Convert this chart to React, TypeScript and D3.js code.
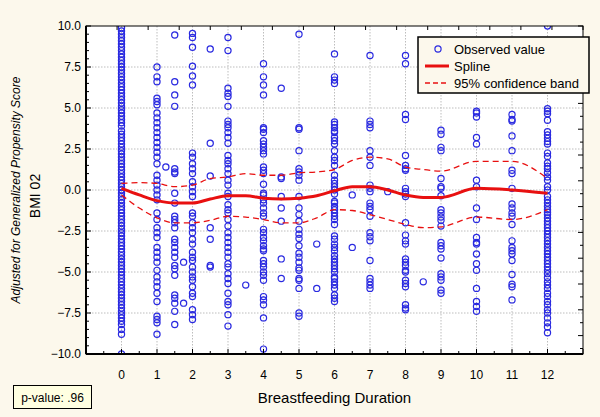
import { useRef, useEffect } from 'react'
import * as d3 from 'd3'

const col0 = [9.9, 9.7, 9.5, 9.3, 9.1, 8.9, 8.7, 8.5, 8.3, 8.1, 7.9, 7.7, 7.5, 7.3, 7.1, 6.9, 6.7, 6.5, 6.3, 6.1, 5.9, 5.7, 5.5, 5.3, 5.1, 4.9, 4.7, 4.5, 4.3, 4.1, 3.9, 3.6, 3.4, 3.2, 3.0, 2.8, 2.6, 2.4, 2.2, 2.0, 1.8, 1.6, 1.4, 1.2, 1.0, 0.8, 0.6, 0.4, 0.2, 0.0, -0.2, -0.4, -0.6, -0.8, -1.0, -1.2, -1.4, -1.6, -1.8, -2.0, -2.2, -2.4, -2.6, -2.8, -3.0, -3.2, -3.4, -3.6, -3.8, -4.0, -4.2, -4.4, -4.6, -4.8, -5.0, -5.2, -5.4, -5.6, -5.8, -6.0, -6.2, -6.4, -6.6, -6.8, -7.0, -7.2, -7.4, -7.6, -7.8, -8.0, -8.2, -8.5, -8.8, -10.0]
const col1 = [7.5, 6.9, 6.6, 5.6, 5.4, 5.2, 4.7, 4.4, 4.1, 3.8, 3.5, 3.2, 2.9, 2.6, 2.3, 2.0, 1.6, 0.9, 0.6, 0.3, 0.0, -0.3, -0.6, -1.4, -1.8, -2.3, -2.6, -2.9, -3.5, -3.8, -4.1, -4.4, -4.9, -5.3, -5.6, -5.9, -6.3, -6.8, -7.7, -7.9, -8.1, -8.8]
const col1q = [1.4]
const col1h = [9.45, 6.6, 5.8, 5.1, 1.3, 1.1, 1.0, -0.2, -0.8, -1.6, -1.8, -2.0, -2.3, -3.0, -3.2, -3.5, -3.8, -4.1, -4.6, -4.8, -5.2, -6.4, -6.6, -6.9, -7.4, -8.2]
const col1t = [-4.4, -6.9]
const col2 = [9.55, 9.3, 8.7, 7.55, 6.95, 6.4, 2.25, 2.0, 1.6, 1.3, 1.0, 0.5, 0.2, -0.1, -0.4, -1.4, -1.6, -2.0, -2.3, -2.6, -3.0, -3.3, -3.8, -4.1, -4.3, -4.7, -5.0, -5.3, -5.5, -5.9, -6.3, -6.5, -7.3, -7.6, -7.9]
const col2h = [8.6, 2.85, 0.85, -2.3, -3.0, -4.6, -4.7]
const col3 = [9.3, 8.5, 6.2, 5.9, 5.7, 5.1, 4.2, 4.0, 3.8, 3.5, 3.2, 2.85, 2.1, 1.8, 1.6, 1.3, 1.0, 0.6, 0.3, -0.2, -0.4, -0.9, -1.2, -1.4, -1.8, -2.2, -2.6, -2.9, -3.2, -3.5, -3.8, -4.1, -4.5, -4.7, -5.1, -5.4, -5.7, -6.3, -6.8, -7.0, -7.6, -8.3]
const col3h = [-5.8]
const col4 = [7.7, 6.9, 6.4, 5.8, 3.8, 3.7, 3.5, 3.0, 2.8, 2.6, 2.4, 2.2, 1.4, 1.2, 1.0, 0.35, -0.2, -0.3, -0.6, -0.8, -1.1, -1.4, -1.6, -2.4, -2.6, -2.9, -3.1, -3.4, -3.6, -3.7, -4.3, -4.5, -4.7, -5.0, -5.2, -5.5, -6.5, -6.7, -7.0, -7.8, -9.7]
const col4h = [6.2, 0.8, 0.7, -0.4, -1.1, -1.9, -4.2, -5.4]
const col5 = [9.5, 3.8, 3.7, 2.4, 1.3, 1.1, 0.9, 0.6, -0.4, -1.1, -1.5, -1.9, -2.4, -2.7, -2.95, -3.4, -3.85, -4.1, -4.4, -4.75, -4.9, -5.4, -5.5, -6.0, -7.5, -7.7]
const col5h = [-3.3, -6.0]
const col6 = [8.3, 6.9, 6.7, 6.5, 4.15, 4.0, 3.8, 3.6, 3.5, 3.2, 3.0, 2.8, 2.4, 2.0, 1.8, 1.5, 0.9, 0.6, 0.4, 0.2, 0.0, -0.25, -0.7, -0.8, -1.0, -1.2, -1.4, -1.6, -1.8, -2.1, -2.8, -3.0, -3.3, -3.5, -3.7, -4.0, -4.2, -4.4, -4.6, -4.8, -5.0, -5.3, -5.4, -5.6, -5.8, -6.0, -6.4, -6.6, -6.8]
const col6h = [-0.3, -3.5]
const col7 = [8.2, 4.2, 4.0, 3.8, 2.4, 2.0, 1.5, 0.3, 0.1, -0.1, -0.8, -1.0, -1.2, -1.6, -2.6, -2.85, -3.1, -4.3, -5.4, -5.6, -5.8, -6.0]
const col7h = [-0.1]
const col8 = [8.2, 7.7, 4.6, 4.3, 2.1, 1.5, 1.3, 1.2, 0.1, -0.1, -0.25, -0.4, -2.0, -2.75, -3.1, -3.3, -4.2, -4.4, -4.6, -4.9, -5.0, -5.5, -5.7, -5.9, -7.0, -7.2, -7.3]
const col8h = [-5.6]
const col9 = [3.65, 3.4, 2.6, 2.4, 0.7, 0.2, 0.1, -0.35, -1.2, -1.4, -1.65, -1.85, -2.2, -3.2, -3.4, -3.6, -4.15, -5.1, -5.3, -5.5, -6.1, -6.3]
const col10 = [4.8, 4.7, 4.45, 3.2, 2.8, 0.6, 0.2, -1.1, -1.8, -2.9, -3.2, -3.3, -3.9, -4.5, -4.9, -6.0, -6.8, -7.1, -7.4]
const col11 = [4.6, 4.3, 4.2, 3.3, 2.4, 1.2, 1.0, 0.1, -0.85, -1.1, -1.4, -1.6, -2.1, -3.1, -3.5, -3.7, -3.9, -4.3, -5.15, -5.75, -5.9, -6.7]
const col12 = [10.0, 4.95, 4.8, 4.65, 4.25, 3.55, 3.35, 3.15, 2.95, 2.8, 2.25, 2.05, 1.65, 1.45, 1.3, 1.05, 0.8, 0.6, 0.2, 0.0, -0.4, -0.6, -0.8, -1.0, -1.2, -1.35, -1.5, -1.7, -1.9, -2.1, -2.3, -2.5, -2.7, -2.9, -3.1, -3.3, -3.5, -3.7, -3.9, -4.1, -4.3, -4.5, -4.7, -4.9, -5.1, -5.35, -5.6, -5.8, -6.0, -6.3, -6.5, -6.8, -7.0, -7.3, -7.5, -7.8, -8.1, -8.35, -8.7]

const groups = [
  { x: 0, ys: col0 }, { x: 1, ys: col1 }, { x: 1.25, ys: col1q }, { x: 1.5, ys: col1h }, { x: 1.75, ys: col1t },
  { x: 2, ys: col2 }, { x: 2.5, ys: col2h }, { x: 3, ys: col3 }, { x: 3.5, ys: col3h },
  { x: 4, ys: col4 }, { x: 4.5, ys: col4h }, { x: 5, ys: col5 }, { x: 5.5, ys: col5h },
  { x: 6, ys: col6 }, { x: 6.5, ys: col6h }, { x: 7, ys: col7 }, { x: 7.5, ys: col7h },
  { x: 8, ys: col8 }, { x: 8.5, ys: col8h }, { x: 9, ys: col9 }, { x: 10, ys: col10 },
  { x: 11, ys: col11 }, { x: 12, ys: col12 },
]

// spline and 95% band
const fitX = [0, 0.5, 1, 1.5, 2, 2.5, 3, 3.5, 4, 4.5, 5, 5.5, 6, 6.5, 7, 7.5, 8, 8.5, 9, 10, 11, 12]
const splineY = [0.1, -0.3, -0.65, -0.8, -0.8, -0.55, -0.35, -0.35, -0.5, -0.55, -0.5, -0.35, -0.05, 0.2, 0.2, 0.0, -0.3, -0.45, -0.45, 0.1, 0.0, -0.2]
const upperY = [0.4, 0.45, 0.4, 0.2, 0.3, 0.7, 0.8, 1.0, 0.9, 0.9, 1.05, 1.1, 1.25, 1.8, 2.0, 1.9, 1.4, 1.25, 1.15, 1.75, 1.75, 0.7]
const lowerY = [-0.3, -1.1, -1.7, -2.0, -2.0, -1.85, -1.6, -1.65, -1.8, -2.0, -2.0, -1.7, -1.2, -1.25, -1.5, -1.8, -2.1, -2.3, -2.25, -1.65, -1.8, -1.2]

const xTicks = [0, 1, 2, 3, 4, 5, 6, 7, 8, 9, 10, 11, 12]
const yTicks = [-10, -7.5, -5, -2.5, 0, 2.5, 5, 7.5, 10]

const BG = '#FCF8EC'
const BLUE = '#2a2ae0'
const RED = '#e81010'
const FONT = 'Liberation Sans, Arial, sans-serif'

export default function App() {
  const svgRef = useRef<SVGSVGElement>(null)

  useEffect(() => {
    if (!svgRef.current) return
    const W = 600, H = 417
    const pad = { l: 86, r: 17, t: 26, b: 63 }
    const svg = d3.select(svgRef.current)
    svg.selectAll('*').remove()
    svg.attr('width', W).attr('height', H)

    svg.append('rect').attr('width', W).attr('height', H).attr('fill', BG)

    const x = d3.scaleLinear().domain([-1, 13]).range([pad.l, W - pad.r])
    const y = d3.scaleLinear().domain([-10, 10]).range([H - pad.b, pad.t])
    const [x0, x1] = x.range()
    const [y0, y1] = y.range()

    svg.append('rect').attr('x', x0).attr('y', y1).attr('width', x1 - x0).attr('height', y0 - y1).attr('fill', '#fff')

    svg.append('clipPath').attr('id', 'plotclip')
      .append('rect').attr('x', x0).attr('y', y1).attr('width', x1 - x0).attr('height', y0 - y1)

    // grid
    svg.selectAll('.gx').data(xTicks).join('line')
      .attr('x1', d => x(d)).attr('x2', d => x(d)).attr('y1', y1).attr('y2', y0)
      .attr('stroke', '#bdbdbd').attr('stroke-dasharray', '1.5,1.5')
    svg.selectAll('.gy').data(yTicks.slice(1, -1)).join('line')
      .attr('x1', x0).attr('x2', x1).attr('y1', d => y(d)).attr('y2', d => y(d))
      .attr('stroke', '#bdbdbd').attr('stroke-dasharray', '1.5,1.5')

    const plot = svg.append('g').attr('clip-path', 'url(#plotclip)')

    const pts = groups.flatMap(g => g.ys.map(v => ({ x: g.x, y: v })))
    plot.selectAll('circle').data(pts).join('circle')
      .attr('cx', d => x(d.x)).attr('cy', d => y(d.y)).attr('r', 3.1)
      .attr('fill', 'none').attr('stroke', BLUE).attr('stroke-width', 1.2)

    const line = (ys: number[]) => d3.line<number>()
      .x((_, i) => x(fitX[i])).y(d => y(d)).curve(d3.curveMonotoneX)(ys)

    plot.append('path').attr('d', line(upperY)).attr('fill', 'none')
      .attr('stroke', RED).attr('stroke-width', 1.3).attr('stroke-dasharray', '6,4')
    plot.append('path').attr('d', line(lowerY)).attr('fill', 'none')
      .attr('stroke', RED).attr('stroke-width', 1.3).attr('stroke-dasharray', '6,4')
    plot.append('path').attr('d', line(splineY)).attr('fill', 'none')
      .attr('stroke', RED).attr('stroke-width', 3)

    // frame
    svg.append('rect').attr('x', x0).attr('y', y1).attr('width', x1 - x0).attr('height', y0 - y1)
      .attr('fill', 'none').attr('stroke', '#000').attr('stroke-width', 1)
    svg.append('line').attr('x1', x0).attr('x2', x1).attr('y1', y0).attr('y2', y0).attr('stroke', '#000').attr('stroke-width', 2)
    svg.append('line').attr('x1', x0).attr('x2', x0).attr('y1', y1).attr('y2', y0).attr('stroke', '#000').attr('stroke-width', 2)

    // ticks: bottom (major + half), left (major + half)
    const bx = d3.range(-1, 13.01, 0.5)
    svg.selectAll('.bt').data(bx).join('line')
      .attr('x1', d => x(d)).attr('x2', d => x(d))
      .attr('y1', y0).attr('y2', d => y0 - (Number.isInteger(d) ? 5 : 3))
      .attr('stroke', '#000')
    const ly = d3.range(-10, 10.01, 0.5)
    svg.selectAll('.lt').data(ly).join('line')
      .attr('x1', x0).attr('x2', d => x0 + (d % 2.5 === 0 ? 5 : 3))
      .attr('y1', d => y(d)).attr('y2', d => y(d))
      .attr('stroke', '#000')
    // top and right secondary ticks
    const tx = d3.scaleLinear().domain([0, 16]).range([x0, x1])
    svg.selectAll('.tt').data(d3.range(0, 17)).join('line')
      .attr('x1', d => tx(d)).attr('x2', d => tx(d)).attr('y1', y1).attr('y2', y1 + 4)
      .attr('stroke', '#000')
    const ry = d3.scaleLinear().domain([0, 328 / 25.8]).range([y1, y0])
    svg.selectAll('.rt').data(d3.range(0, 12.75, 0.5)).join('line')
      .attr('x1', x1).attr('x2', d => x1 - (Number.isInteger(d) ? 5 : 3))
      .attr('y1', d => ry(d)).attr('y2', d => ry(d))
      .attr('stroke', '#000')

    // tick labels
    svg.selectAll('.xl').data(xTicks).join('text')
      .attr('x', d => x(d)).attr('y', y0 + 25).attr('text-anchor', 'middle')
      .attr('font-size', 12).attr('font-family', FONT).attr('fill', '#000')
      .text(d => String(d))
    svg.selectAll('.yl').data(yTicks).join('text')
      .attr('x', x0 - 5).attr('y', d => y(d) + 4).attr('text-anchor', 'end')
      .attr('font-size', 12).attr('font-family', FONT).attr('fill', '#000')
      .text(d => d3.format('.1f')(d))

    // axis titles
    svg.append('text').attr('x', (x0 + x1) / 2).attr('y', 403).attr('text-anchor', 'middle')
      .attr('font-size', 15).attr('font-family', FONT).text('Breastfeeding Duration')
    svg.append('text').attr('transform', 'translate(40,196) rotate(-90)').attr('text-anchor', 'middle')
      .attr('font-size', 14).attr('font-family', FONT).text('BMI 02')
    svg.append('text').attr('transform', 'translate(20,190) rotate(-90)').attr('text-anchor', 'middle')
      .attr('font-size', 12).attr('font-style', 'italic').attr('font-family', FONT)
      .text('Adjusted for Generalized Propensity Score')

    // p-value box
    svg.append('rect').attr('x', 13.5).attr('y', 385.5).attr('width', 78).attr('height', 23)
      .attr('fill', '#FFFFE1').attr('stroke', '#000')
    svg.append('text').attr('x', 52.5).attr('y', 401.5).attr('text-anchor', 'middle')
      .attr('font-size', 12).attr('font-family', FONT).text('p-value: .96')

    // legend
    const lg = svg.append('g')
    lg.append('rect').attr('x', 418).attr('y', 37).attr('width', 171).attr('height', 56)
      .attr('fill', BG).attr('stroke', '#000').attr('stroke-width', 1.5)
    lg.append('circle').attr('cx', 438).attr('cy', 49).attr('r', 3.1)
      .attr('fill', 'none').attr('stroke', BLUE).attr('stroke-width', 1.2)
    lg.append('line').attr('x1', 425).attr('x2', 449).attr('y1', 66).attr('y2', 66)
      .attr('stroke', RED).attr('stroke-width', 3)
    lg.append('line').attr('x1', 425).attr('x2', 449).attr('y1', 83).attr('y2', 83)
      .attr('stroke', RED).attr('stroke-width', 1.3).attr('stroke-dasharray', '5,3')
    const labels = ['Observed value', 'Spline', '95% confidence band']
    lg.selectAll('.lgt').data(labels).join('text')
      .attr('x', 454).attr('y', (_, i) => 53.5 + i * 17)
      .attr('font-size', 13).attr('font-family', FONT).text(d => d)
  }, [])

  return (
    <div style={{ position: 'absolute', left: 0, top: 0 }}>
      <svg ref={svgRef} style={{ display: 'block' }} />
    </div>
  )
}
